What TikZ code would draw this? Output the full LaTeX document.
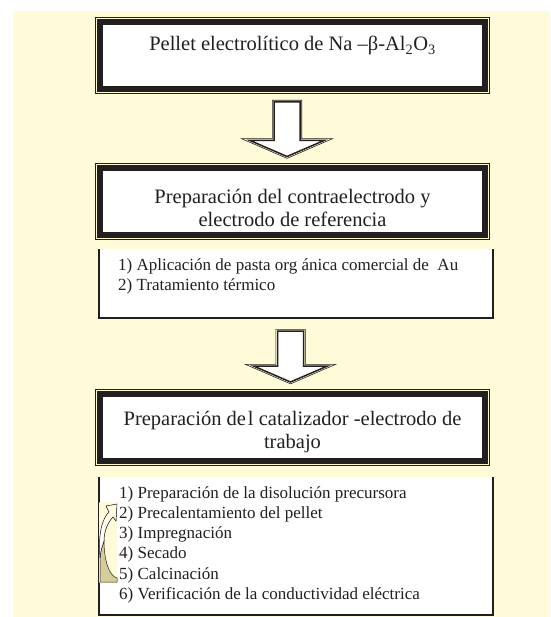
\documentclass[tikz,border=0pt]{standalone}
\usepackage{fontspec}
\setmainfont{Liberation Serif}
\usetikzlibrary{calc}
\definecolor{crema}{RGB}{255,250,215}
\definecolor{caqui}{RGB}{214,206,154}
\definecolor{tinta}{RGB}{35,31,32}

\tikzset{
  marco/.style={draw=tinta, line width=6pt, fill=white, outer sep=0pt, inner sep=0pt,
    preaction={draw=tinta, line width=10pt},
    preaction={draw=crema, line width=8pt},
    minimum width=385pt, minimum height=67pt},
  flecha/.style={draw=tinta, line width=1.5pt, fill=white,
    preaction={draw=tinta, line width=4pt},
    preaction={draw=crema, line width=2.6pt}},
  lista/.style={fill=white, minimum width=394pt, anchor=north west, inner sep=0pt, outer sep=0pt},
  titulo/.style={font=\fontsize{20.5}{23}\selectfont, text=tinta, align=center, inner sep=0pt},
  paso/.style={font=\fontsize{17}{20}\selectfont, text=tinta, anchor=base west, inner sep=0pt},
}

% flecha hueca entre dos nodos
\newcommand{\flechabloque}[2]{%
  \draw[flecha] let \p1=(#1.south), \p2=(#2.north) in
    (\x1-18.5pt,\y1-13pt) -- (\x1+7.5pt,\y1-13pt) -- (\x1+7.5pt,\y2+28pt)
    -- (\x1+31.5pt,\y2+28pt) -- (\x1-5.5pt,\y2+12pt) -- (\x1-42.5pt,\y2+28pt)
    -- (\x1-18.5pt,\y2+28pt) -- cycle;}

\begin{document}
\begin{tikzpicture}[x=1pt,y=-1pt]
  \useasboundingbox (0,0) rectangle (550,617);
  \fill[crema] (13,11) rectangle (550,617);

  % marcos de las etapas
  \node[marco] (pellet) at (292.5,55.5) {};
  \node[marco] (contra) at (292.5,202) {};
  \node[marco] (catal) at (292.5,427.5) {};

  % cajas con los pasos
  \node[lista, minimum height=69pt] (pasos1) at (99,249) {};
  \draw[tinta, line width=1.2pt] (pasos1.north west) |- (pasos1.south east) -- (pasos1.north east);
  \node[lista, minimum height=138pt] (pasos2) at (99,477) {};
  \draw[tinta, line width=1.2pt] (pasos2.north west) |- (pasos2.south east) -- (pasos2.north east);

  % flechas
  \flechabloque{pellet}{contra}
  \flechabloque{pasos1}{catal}

  % textos
  \node[titulo, anchor=base] (t1) at (292.5,51) {Pellet electrolítico de Na –β-Al\textsubscript{2}O\textsubscript{3}};
  \node[titulo] (t2) at (292.5,208) {Preparación del contraelectrodo y\\electrodo de referencia};
  \node[titulo] (t3) at (292.5,432) {Preparación de\kern2pt l catalizador -electrodo de\\trabajo};

  \foreach \t [count=\i from 0] in {1) Aplicación de pasta org ánica comercial de \ Au,
      2) Tratamiento térmico}
    \node[paso] at ($(pasos1.north west)+(19,21+20*\i)$) {\t};
  \foreach \t [count=\i from 0] in {1) Preparación de la disolución precursora,
      2) Precalentamiento del pellet, 3) Impregnación, 4) Secado, 5) Calcinación,
      6) Verificación de la conductividad eléctrica}
    \node[paso] at ($(pasos2.north west)+(20,21+20.3*\i)$) {\t};

  % flecha curva del ciclo
  \shade[left color=crema, middle color=white, right color=crema] (99.4,502) rectangle (117,582);
  \filldraw[fill=caqui, draw=tinta, line width=0.5pt] (100,582) -- (100,558)
    .. controls (101,550) .. (104,541) .. controls (104,560) and (109,576) .. (117,578)
    -- (117,582) -- cycle;
  \filldraw[left color=white, right color=crema, draw=tinta, line width=0.5pt] (100,558)
    .. controls (98,534) and (102,519) .. (109,512) -- (106,506) -- (117,504)
    -- (116,521) -- (113,517) .. controls (108,522) and (104,531) .. (104,541)
    .. controls (101,550) .. (100,558) -- cycle;
\end{tikzpicture}
\end{document}
